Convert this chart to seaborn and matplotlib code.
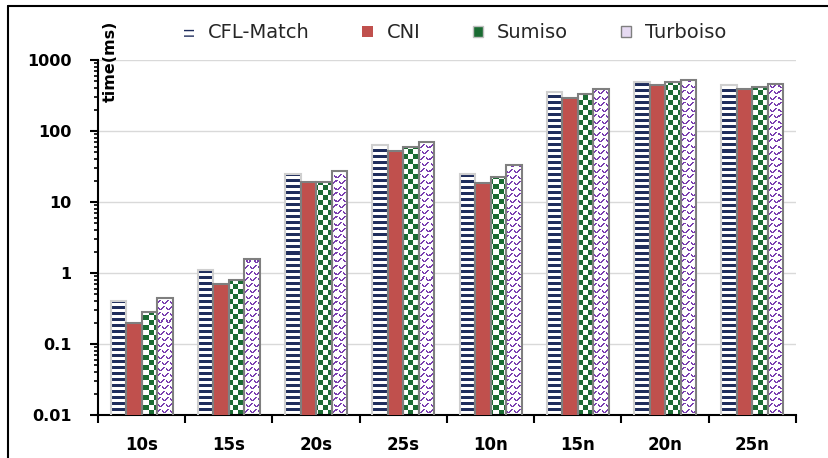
import numpy as np
import pandas as pd
import seaborn as sns
import matplotlib
matplotlib.use("Agg")
import matplotlib.pyplot as plt
from matplotlib.patches import Patch
from matplotlib.lines import Line2D
from matplotlib.ticker import LogLocator, NullFormatter

# ---- data -------------------------------------------------------------
categories = ["10s", "15s", "20s", "25s", "10n", "15n", "20n", "25n"]
series = ["CFL-Match", "CNI", "Sumiso", "Turboiso"]
cfl_match = [0.40, 1.10, 25.0, 64.0, 24.5, 355.0, 490.0, 450.0]
cni = [0.20, 0.70, 19.0, 53.0, 18.3, 295.0, 445.0, 395.0]
sumiso = [0.28, 0.80, 19.0, 60.0, 22.7, 330.0, 485.0, 412.0]
turboiso = [0.45, 1.60, 27.5, 70.0, 33.0, 395.0, 525.0, 465.0]
y_ticks = [0.01, 0.1, 1, 10, 100, 1000]
y_tick_labels = ["0.01", "0.1", "1", "10", "100", "1000"]

values = {"CFL-Match": cfl_match, "CNI": cni, "Sumiso": sumiso, "Turboiso": turboiso}
df = pd.DataFrame(
    [(c, s, v) for s in series for c, v in zip(categories, values[s])],
    columns=["graph", "algorithm", "time"],
)

# ---- colours ----------------------------------------------------------
NAVY = "#1F2D5C"
RED = "#C0504D"
GREEN = "#1A6B32"
PURPLE = "#7A3FB0"
EDGE = "#7F7F7F"

sns.set_theme(style="white")
plt.rcParams["font.family"] = ["DejaVu Sans"]

fig = plt.figure(figsize=(8.29, 4.58), dpi=100)
ax = fig.add_axes([98 / 829, 43 / 458, 698 / 829, 355 / 458])

palette = {"CFL-Match": "white", "CNI": RED, "Sumiso": "white", "Turboiso": "white"}
sns.barplot(
    data=df, x="graph", y="time", hue="algorithm",
    order=categories, hue_order=series, palette=palette,
    width=0.71, gap=0, saturation=1, errorbar=None, legend=False, ax=ax,
)
ax.set_yscale("log")

# ---- fill patterns (pixel-aligned bitmaps clipped to each bar) --------
bb = ax.get_window_extent(fig.canvas.get_renderer())
H, W = int(round(bb.height)), int(round(bb.width))
rr, cc = np.mgrid[0:H, 0:W]


def rgb(hexcol):
    return np.array(matplotlib.colors.to_rgb(hexcol))


def paint(mask, fg):
    img = np.ones((H, W, 3))
    img[mask] = rgb(fg)
    return img


stripes = paint((rr % 6) < 3, NAVY)
checker = paint(((rr // 5) + (cc // 5)) % 2 == 0, GREEN)
shift = cc + 4 * ((rr // 6) % 2)
wave_c = 2.5 + 1.4 * np.sin(2 * np.pi * (shift % 8) / 8)
waves = paint((np.abs((rr % 6) - wave_c) < 0.8) & ((shift % 8) != 7), PURPLE)

patterns = {0: stripes, 2: checker, 3: waves}
edge_colors = ["#CFCFCF", EDGE, EDGE, EDGE]

for i, container in enumerate(ax.containers):
    for bar in container:
        bar.set_edgecolor(edge_colors[i])
        bar.set_linewidth(1.5)
        bar.set_zorder(3)
        if i in patterns:
            bar.set_facecolor("none")
            im = ax.imshow(
                patterns[i], extent=(0, 1, 0, 1), transform=ax.transAxes,
                interpolation="nearest", aspect="auto", zorder=2,
            )
            im.set_clip_path(bar)

ax.set_xlim(-0.5, len(categories) - 0.5)
ax.set_ylim(0.01, 1000)

# ---- axes styling -----------------------------------------------------
ax.set_xlabel("")
ax.set_ylabel("")
for side in ("top", "right"):
    ax.spines[side].set_visible(False)
for side in ("left", "bottom"):
    ax.spines[side].set_color("black")
    ax.spines[side].set_linewidth(1.5)

ax.set_yticks(y_ticks, labels=y_tick_labels)
ax.yaxis.set_minor_locator(LogLocator(base=10, subs=np.arange(2, 10), numticks=20))
ax.yaxis.set_minor_formatter(NullFormatter())
ax.tick_params(axis="y", which="major", direction="out", length=6, width=1.5,
               color="black", pad=13, labelsize=11.5, left=True)
ax.tick_params(axis="y", which="minor", direction="out", length=3, width=1.2,
               color="black", left=True)

ax.set_xticks(range(len(categories)), labels=categories)
ax.set_xticks(np.arange(-0.5, len(categories), 1), minor=True)
ax.tick_params(axis="x", which="major", length=0, pad=15, labelsize=12)
ax.tick_params(axis="x", which="minor", direction="out", length=6, width=1.5,
               color="black", bottom=True)
for lbl in ax.get_xticklabels() + ax.get_yticklabels():
    lbl.set_fontweight("bold")
    lbl.set_color("black")

ax.yaxis.grid(True, which="major", color="#D9D9D9", linewidth=1)
ax.set_axisbelow(True)

fig.text(110 / 829, 1 - 61 / 458, "time(ms)", rotation=90, ha="center",
         va="center", fontsize=11.5, fontweight="bold", color="black")

# ---- legend -----------------------------------------------------------
handles = [
    Patch(facecolor="white", edgecolor=NAVY, hatch="---", linewidth=0),
    Patch(facecolor=RED, edgecolor=RED, linewidth=0),
    Patch(facecolor=GREEN, edgecolor="#BFBFBF", linewidth=1),
    Patch(facecolor="#E6DAF2", edgecolor=EDGE, linewidth=1),
]
fig.legend(handles, series, loc="center", bbox_to_anchor=(455 / 829, 1 - 33 / 458),
           ncol=4, frameon=False, fontsize=14, handlelength=0.55,
           handleheight=0.55, handletextpad=0.7, columnspacing=2.7)

# ---- outer frame ------------------------------------------------------
fig.add_artist(Line2D([8 / 829, 8 / 829], [0, 1 - 6 / 458], color="black",
                      lw=1.5, transform=fig.transFigure))
fig.add_artist(Line2D([8 / 829, 1], [1 - 6 / 458, 1 - 6 / 458], color="black",
                      lw=1.5, transform=fig.transFigure))

fig.savefig("out.png", dpi=100)
